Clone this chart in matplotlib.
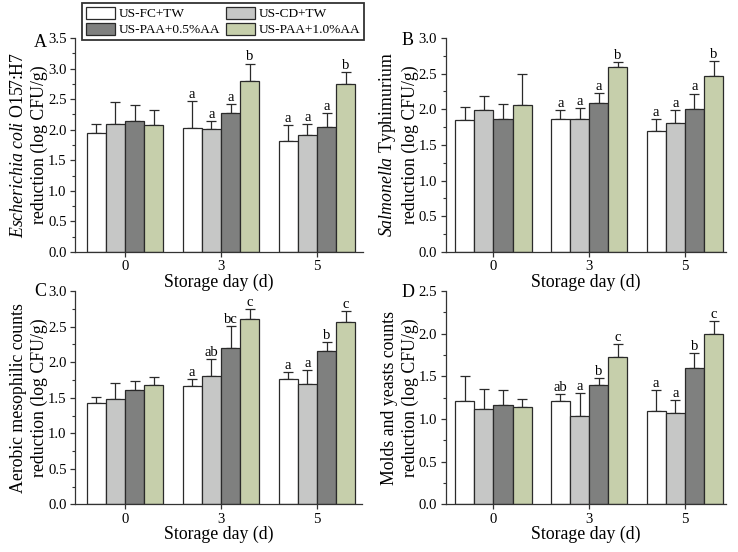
import matplotlib
matplotlib.use('Agg')
import matplotlib.pyplot as plt
from matplotlib.patches import Patch
from matplotlib.ticker import MultipleLocator
import numpy as np

plt.rcParams['font.family'] = ['Liberation Serif', 'DejaVu Serif']
plt.rcParams['mathtext.fontset'] = 'custom'
plt.rcParams['mathtext.rm'] = 'Liberation Serif'
plt.rcParams['mathtext.it'] = 'Liberation Serif:italic'

# data --------------------------------------------------------------------
days = ['0', '3', '5']
treatments = ['US-FC+TW', 'US-CD+TW', 'US-PAA+0.5%AA', 'US-PAA+1.0%AA']
colors = ['#ffffff', '#c6c7c6', '#7f807f', '#c6cfab']

# rows = storage day, columns = treatment
ecoli_mean = [[1.94, 2.10, 2.15, 2.07],
              [2.03, 2.01, 2.27, 2.79],
              [1.81, 1.92, 2.05, 2.75]]
ecoli_err = [[0.15, 0.36, 0.26, 0.25],
             [0.44, 0.13, 0.15, 0.29],
             [0.26, 0.17, 0.22, 0.19]]
ecoli_sig = [['', '', '', ''], ['a', 'a', 'a', 'b'], ['a', 'a', 'a', 'b']]

salm_mean = [[1.85, 1.99, 1.87, 2.06],
             [1.87, 1.87, 2.09, 2.60],
             [1.70, 1.81, 2.01, 2.47]]
salm_err = [[0.18, 0.19, 0.20, 0.44],
            [0.12, 0.15, 0.14, 0.06],
            [0.16, 0.18, 0.21, 0.21]]
salm_sig = [['', '', '', ''], ['a', 'a', 'a', 'b'], ['a', 'a', 'a', 'b']]

amc_mean = [[1.43, 1.48, 1.61, 1.68],
            [1.66, 1.80, 2.20, 2.61],
            [1.77, 1.70, 2.16, 2.56]]
amc_err = [[0.08, 0.23, 0.13, 0.11],
           [0.10, 0.24, 0.31, 0.14],
           [0.09, 0.19, 0.12, 0.16]]
amc_sig = [['', '', '', ''], ['a', 'ab', 'bc', 'c'], ['a', 'a', 'b', 'c']]

my_mean = [[1.21, 1.12, 1.17, 1.14],
           [1.21, 1.04, 1.40, 1.73],
           [1.09, 1.07, 1.60, 2.00]]
my_err = [[0.29, 0.23, 0.17, 0.10],
          [0.08, 0.26, 0.08, 0.15],
          [0.25, 0.15, 0.17, 0.15]]
my_sig = [['', '', '', ''], ['ab', 'a', 'b', 'c'], ['a', 'a', 'b', 'c']]

panels = [
    ('A', r'$\it{Escherichia\ coli}$ O157:H7' + '\nreduction (log CFU/g)',
     ecoli_mean, ecoli_err, ecoli_sig, 3.5, (-0.52, 2.48)),
    ('B', r'$\it{Salmonella}$ Typhimurium' + '\nreduction (log CFU/g)',
     salm_mean, salm_err, salm_sig, 3.0, (-0.50, 2.43)),
    ('C', 'Aerobic mesophilic counts\nreduction (log CFU/g)',
     amc_mean, amc_err, amc_sig, 3.0, (-0.52, 2.47)),
    ('D', 'Molds and yeasts counts\nreduction (log CFU/g)',
     my_mean, my_err, my_sig, 2.5, (-0.50, 2.43)),
]

# layout ------------------------------------------------------------------
fig = plt.figure(figsize=(7.38, 5.52), dpi=100)
boxes = [[0.1016, 0.5435, 0.3903, 0.3877],
         [0.6037, 0.5435, 0.3800, 0.3877],
         [0.1016, 0.0861, 0.3890, 0.3867],
         [0.6037, 0.0861, 0.3800, 0.3867]]
letter_xy = [(-0.1215, 0.977), (-0.137, 0.99), (-0.122, 1.0), (-0.134, 0.993)]

width = 0.2
x = np.arange(len(days))
spine_c = '#333333'

for k, (box, (letter, ylab, mean, err, sig, ymax, xlim)) in enumerate(zip(boxes, panels)):
    ax = fig.add_axes(box)
    mean = np.array(mean)
    err = np.array(err)
    for j in range(len(treatments)):
        xs = x + (j - 1.5) * width
        ax.bar(xs, mean[:, j], width, color=colors[j], edgecolor='#2a2a2a',
               linewidth=0.9, zorder=2)
        ax.errorbar(xs, mean[:, j], yerr=[np.zeros(len(days)), err[:, j]],
                    fmt='none', ecolor='#2a2a2a', elinewidth=0.9,
                    capsize=3.6, capthick=0.9, zorder=1)
        for i in range(len(days)):
            if sig[i][j]:
                ax.annotate(sig[i][j], xy=(xs[i], mean[i, j] + err[i, j]),
                            xytext=(0, 0.2), textcoords='offset points',
                            ha='center', va='bottom', fontsize=10.5)
    ax.set_xlim(*xlim)
    ax.set_ylim(0, ymax)
    ax.set_xticks(x)
    ax.set_xticklabels(days)
    ax.yaxis.set_major_locator(MultipleLocator(0.5))
    ax.yaxis.set_minor_locator(MultipleLocator(0.25))
    ax.yaxis.set_major_formatter(matplotlib.ticker.FormatStrFormatter('%.1f'))
    for s in ['top', 'right']:
        ax.spines[s].set_visible(False)
    for s in ['left', 'bottom']:
        ax.spines[s].set_color(spine_c)
        ax.spines[s].set_linewidth(0.9)
    ax.tick_params(axis='both', which='major', direction='out', length=3.5,
                   width=0.9, color=spine_c, labelsize=10.6, pad=2.5)
    ax.tick_params(axis='y', which='minor', direction='out', length=2,
                   width=0.8, color=spine_c)
    ax.set_xlabel('Storage day (d)', fontsize=12.8, labelpad=0)
    ax.set_ylabel(ylab, fontsize=12.8, labelpad=0, linespacing=1.25)
    ax.text(letter_xy[k][0], letter_xy[k][1], letter, transform=ax.transAxes,
            fontsize=13, ha='center', va='center')

# legend rows: FC, CD / PAA0.5, PAA1.0 (matplotlib fills column-wise)
order = [0, 2, 1, 3]
handles = [Patch(facecolor=colors[i], edgecolor='#2a2a2a', linewidth=0.9) for i in order]
labels = [treatments[i] for i in order]
leg = fig.legend(handles, labels, ncol=2, loc='upper left',
                 bbox_to_anchor=(0.111, 0.995), fontsize=9.6, frameon=True,
                 fancybox=False, edgecolor='black', handlelength=2.2,
                 handleheight=1.0, handletextpad=0.25, columnspacing=0.45,
                 labelspacing=0.2, borderpad=0.3, borderaxespad=0)
leg.get_frame().set_linewidth(1.3)

fig.savefig('out.png', dpi=100)
